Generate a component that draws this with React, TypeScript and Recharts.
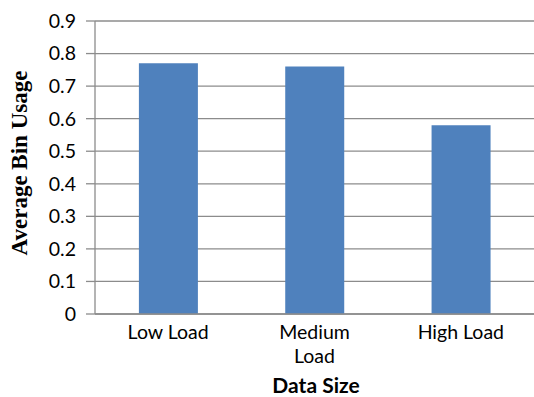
import { Bar, BarChart, CartesianGrid, XAxis, YAxis } from 'recharts'

const categories = ['Low Load', 'Medium Load', 'High Load']
const binUsage = [0.77, 0.76, 0.58]
const yTicks = [0, 0.1, 0.2, 0.3, 0.4, 0.5, 0.6, 0.7, 0.8, 0.9]

const data = categories.map((name, i) => ({ name, usage: binUsage[i] }))

const TICK_FONT = 'Lato, "Open Sans", sans-serif'

// long category names break onto two lines under the bar
function CategoryTick({ x, y, payload }: any) {
  const label: string = payload.value
  const lines = label.length > 9 ? label.split(' ') : [label]
  return (
    <text x={x} y={y} textAnchor="middle" fontFamily={TICK_FONT} fontSize={19.5} fill="#000">
      {lines.map((l, i) => (
        <tspan key={i} x={x} dy={i === 0 ? 17 : 24}>
          {l}
        </tspan>
      ))}
    </text>
  )
}

export default function App() {
  return (
    <div style={{ position: 'absolute', left: 0, top: 0, width: 534, height: 397, background: '#fff' }}>
      <BarChart
        width={534}
        height={397}
        data={data}
        margin={{ top: 21, right: 0, bottom: 0, left: 0 }}
        barCategoryGap="30%"
      >
        <CartesianGrid vertical={false} stroke="#8c8c8c" strokeWidth={1.3} />
        <XAxis
          dataKey="name"
          tick={<CategoryTick />}
          tickLine={false}
          axisLine={{ stroke: '#8c8c8c', strokeWidth: 1.3 }}
          interval={0}
          height={83}
        />
        <YAxis
          domain={[0, 0.9]}
          ticks={yTicks}
          interval={0}
          width={95}
          tickSize={9}
          tickMargin={10}
          tickLine={{ stroke: '#8c8c8c', strokeWidth: 1.3 }}
          axisLine={{ stroke: '#8c8c8c', strokeWidth: 1.3 }}
          tick={{ fontFamily: TICK_FONT, fontSize: 19.5, fill: '#000' }}
          tickFormatter={(v: number) => (v === 0 ? '0' : v.toFixed(1))}
        />
        <Bar dataKey="usage" fill="#4f81bd" isAnimationActive={false} />
        <text
          x={19}
          y={163}
          transform="rotate(-90 19 163)"
          textAnchor="middle"
          dominantBaseline="central"
          fontFamily='"Liberation Serif", "DejaVu Serif", serif'
          fontWeight="bold"
          fontSize={23}
          fill="#000"
        >
          Average Bin Usage
        </text>
        <text
          x={316}
          y={393}
          textAnchor="middle"
          fontFamily={TICK_FONT}
          fontWeight="bold"
          fontSize={21}
          fill="#000"
        >
          Data Size
        </text>
      </BarChart>
    </div>
  )
}
